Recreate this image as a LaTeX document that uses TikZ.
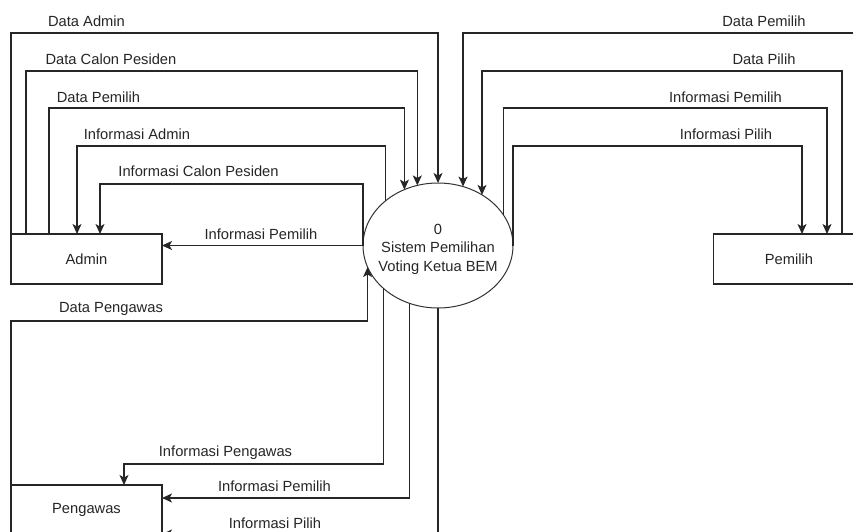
\documentclass[tikz,border=0pt]{standalone}
\usepackage{fontspec}
\setmainfont{Liberation Sans}
\usetikzlibrary{shapes.geometric,arrows.meta}
\begin{document}
\begin{tikzpicture}[x=1pt,y=-1pt,
  txt/.style={font=\fontsize{14.7}{18.5}\selectfont, text=black!85},
  ent/.style={txt, draw=black!85, line width=1.2pt, minimum width=151pt, minimum height=50pt, inner sep=0pt, outer sep=0pt},
  proc/.style={ellipse, draw=black!80, line width=1pt, minimum width=150pt, minimum height=125pt, inner sep=0pt, outer sep=0pt},
  proctext/.style={txt, align=center, inner sep=0pt},
  flow/.style={draw=black!85, line width=1.2pt, -{Stealth[length=10pt,width=9pt,inset=2.5pt]}},
  lbl/.style={txt, inner sep=0pt}
]
\useasboundingbox (0,0) rectangle (853,532);
\fill[white] (0,0) rectangle (853,532);

\node[ent] (admin) at (86.5,259) {Admin};
\node[ent] (pengawas) at (86.5,510) {Pengawas};
\node[ent] (pemilih) at (789,259) {Pemilih};
\node[proc] (sys) at (438,245.5) {};
\node[proctext] (systext) at (438,249) {0\\Sistem Pemilihan\\Voting Ketua BEM};

% Admin flows
\draw[flow] (admin.north west) |- (sys.north |- 0,33) -- (sys.north);
\draw[flow] ([xshift=15pt]admin.north west) |- (sys.109.3 |- 0,71) -- (sys.109.3);
\draw[flow] ([xshift=38pt]admin.north west) |- (sys.121.4 |- 0,108) -- (sys.121.4);
\draw[flow] (sys.140.2) -- (sys.140.2 |- 0,146) -| ([xshift=66pt]admin.north west);
\draw[flow] (sys.west) -- (sys.west |- 0,184) -| ([xshift=89pt]admin.north west);
\draw[flow] (sys.west) -- (admin.east |- sys.west);

% Pengawas flows
\draw[flow] (pengawas.north west) |- (sys.197.7 |- 0,321) -- (sys.197.7);
\draw[flow] (sys.218.7) -- (sys.218.7 |- 0,464) -| ([xshift=113pt]pengawas.north west);
\draw[flow] (sys.244.2) |- ([yshift=12pt]pengawas.east);
\draw[flow] (sys.south) |- ([yshift=-24pt]pengawas.east);

% Pemilih flows
\draw[flow] ([xshift=-8pt]pemilih.north east) |- (sys.67 |- 0,33) -- (sys.67);
\draw[flow] ([xshift=-22.5pt]pemilih.north east) |- (sys.49 |- 0,71) -- (sys.49);
\draw[flow] (sys.25.6) -- (sys.25.6 |- 0,108) -| ([xshift=-37.5pt]pemilih.north east);
\draw[flow] (sys.east) -- (sys.east |- 0,146) -| ([xshift=-62.5pt]pemilih.north east);

% Labels
\node[lbl] (l1) at (86.5,21) {Data Admin};
\node[lbl] (l2) at (111,59) {Data Calon Pesiden};
\node[lbl] (l3) at (98.5,97) {Data Pemilih};
\node[lbl] (l4) at (137,134) {Informasi Admin};
\node[lbl] (l5) at (198.5,171) {Informasi Calon Pesiden};
\node[lbl] (l6) at (261,234) {Informasi Pemilih};
\node[lbl] (l7) at (111,309) {Data Pengawas};
\node[lbl] (l8) at (225.5,453) {Informasi Pengawas};
\node[lbl] (l9) at (274.5,486) {Informasi Pemilih};
\node[lbl] (l10) at (275,523) {Informasi Pilih};
\node[lbl] (l11) at (764,21) {Data Pemilih};
\node[lbl] (l12) at (764,59) {Data Pilih};
\node[lbl] (l13) at (725.5,97) {Informasi Pemilih};
\node[lbl] (l14) at (726,134) {Informasi Pilih};
\end{tikzpicture}
\end{document}
